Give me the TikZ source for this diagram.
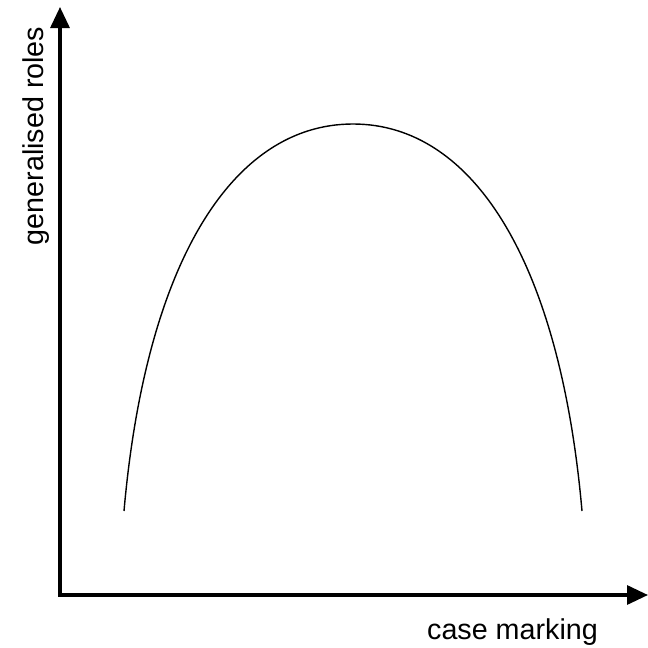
\documentclass[tikz,border=0pt]{standalone}
\usepackage{fontspec}
\setmainfont{Liberation Sans}
\usetikzlibrary{arrows.meta}
\begin{document}
\begin{tikzpicture}[x=1pt,y=-1pt,
  axis/.style={line width=3.2pt,line join=miter,
    {Triangle[length=21pt,width=19pt]}-{Triangle[length=21pt,width=19pt]}},
  curve/.style={line width=1.4pt},
  lab/.style={inner sep=0pt,anchor=base,font=\fontsize{28.7}{34}\selectfont}]
\useasboundingbox (0,0) rectangle (648,648);
\coordinate (ytip) at (60,7);
\coordinate (origin) at (60,595);
\coordinate (xtip) at (648,595);
\draw[axis] (ytip) -- (origin) -- (xtip);
\coordinate (cl) at (124,511);
\coordinate (peak) at (353,124);
\coordinate (cr) at (582,511);
\draw[curve] (cl) .. controls (146,261) and (233,124) .. (peak)
  .. controls (473,124) and (560,261) .. (cr);
\node[lab] (xlab) at (512.5,639) {case marking};
\node[lab,rotate=90] (ylab) at (43,136) {generalised roles};
\end{tikzpicture}
\end{document}
